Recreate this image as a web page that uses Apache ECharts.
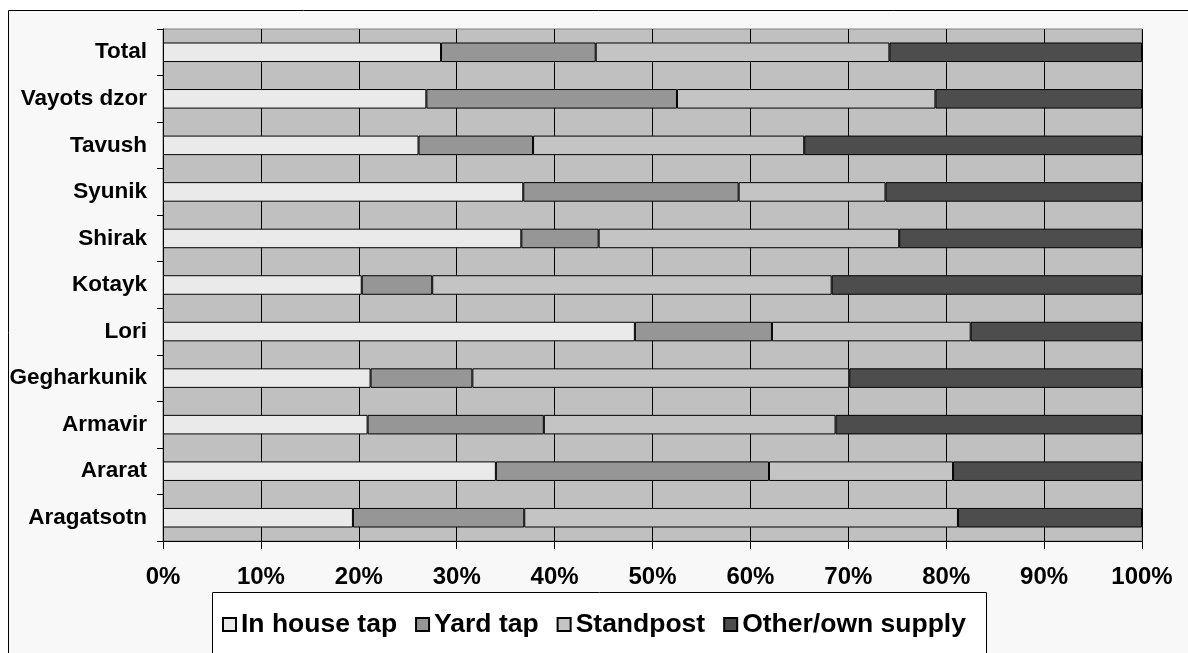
<!DOCTYPE html>
<html>
<head>
<meta charset="utf-8">
<script src="https://cdn.jsdelivr.net/npm/echarts@6/dist/echarts.min.js"></script>
<style>
html,body{margin:0;padding:0;background:#ffffff;}
#chart{width:1188px;height:653px;}
</style>
</head>
<body>
<div id="chart"></div>
<script>
const categories = ['Aragatsotn','Ararat','Armavir','Gegharkunik','Lori','Kotayk','Shirak','Syunik','Tavush','Vayots dzor','Total'];
const seriesNames = ['In house tap','Yard tap','Standpost','Other/own supply'];
const inHouseTap = [19.4, 34.0, 20.9, 21.2, 48.2, 20.3, 36.6, 36.8, 26.1, 26.9, 28.4];
const yardTap    = [17.5, 27.9, 18.0, 10.4, 14.0, 7.2, 7.9, 22.0, 11.7, 25.6, 15.8];
const standpost  = [44.3, 18.8, 29.8, 38.5, 20.3, 40.8, 30.7, 15.0, 27.7, 26.4, 30.0];
const otherOwn   = [18.8, 19.3, 31.3, 29.9, 17.5, 31.7, 24.8, 26.2, 34.5, 21.1, 25.8];
const xTicks = [0,10,20,30,40,50,60,70,80,90,100];

const seriesData = [inHouseTap, yardTap, standpost, otherOwn];
const colors = ['#EAEAEA','#969696','#C4C4C4','#4D4D4D'];
const FONT = "'Liberation Sans', Arial, sans-serif";

const chart = echarts.init(document.getElementById('chart'), null, {renderer:'canvas'});
chart.setOption({
  animation:false,
  backgroundColor:'#ffffff',
  graphic:[
    {type:'rect', z:-10, silent:true, shape:{x:8.5, y:10.5, width:1300, height:800}, style:{fill:'#F8F8F8', stroke:'#000', lineWidth:1}},
    {type:'rect', z:-5, silent:true, shape:{x:212.5, y:592.5, width:774, height:120}, style:{fill:'#ffffff', stroke:'#000', lineWidth:1}}
  ],
  grid:{left:163, right:46, top:29, bottom:112, show:true, backgroundColor:'#C0C0C0', borderColor:'#808080', borderWidth:1},
  legend:{
    left:217, top:606, itemWidth:13, itemHeight:13, itemGap:18, icon:'rect',
    textStyle:{fontFamily:FONT, fontWeight:'bold', fontSize:26.5, color:'#000'},
    data:seriesNames
  },
  xAxis:{
    type:'value', min:xTicks[0], max:xTicks[xTicks.length-1], interval:10,
    axisLine:{show:true, lineStyle:{color:'#000', width:1}},
    axisTick:{show:true, length:8, lineStyle:{color:'#000'}},
    splitLine:{show:true, lineStyle:{color:'#000', width:1}},
    axisLabel:{formatter:'{value}%', margin:24, fontFamily:FONT, fontWeight:'bold', fontSize:24, color:'#000'}
  },
  yAxis:{
    type:'category', data:categories,
    axisLine:{show:true, lineStyle:{color:'#000', width:1}},
    axisTick:{show:true, length:6, lineStyle:{color:'#000'}},
    splitLine:{show:false},
    axisLabel:{margin:16, fontFamily:FONT, fontWeight:'bold', fontSize:22.5, color:'#000'}
  },
  series: seriesNames.map((name,i)=>({
    name:name, type:'bar', stack:'all', barWidth:'42%',
    data:seriesData[i],
    itemStyle:{color:colors[i], borderColor:'#000', borderWidth:1},
    emphasis:{disabled:true}
  }))
});
</script>
</body>
</html>
